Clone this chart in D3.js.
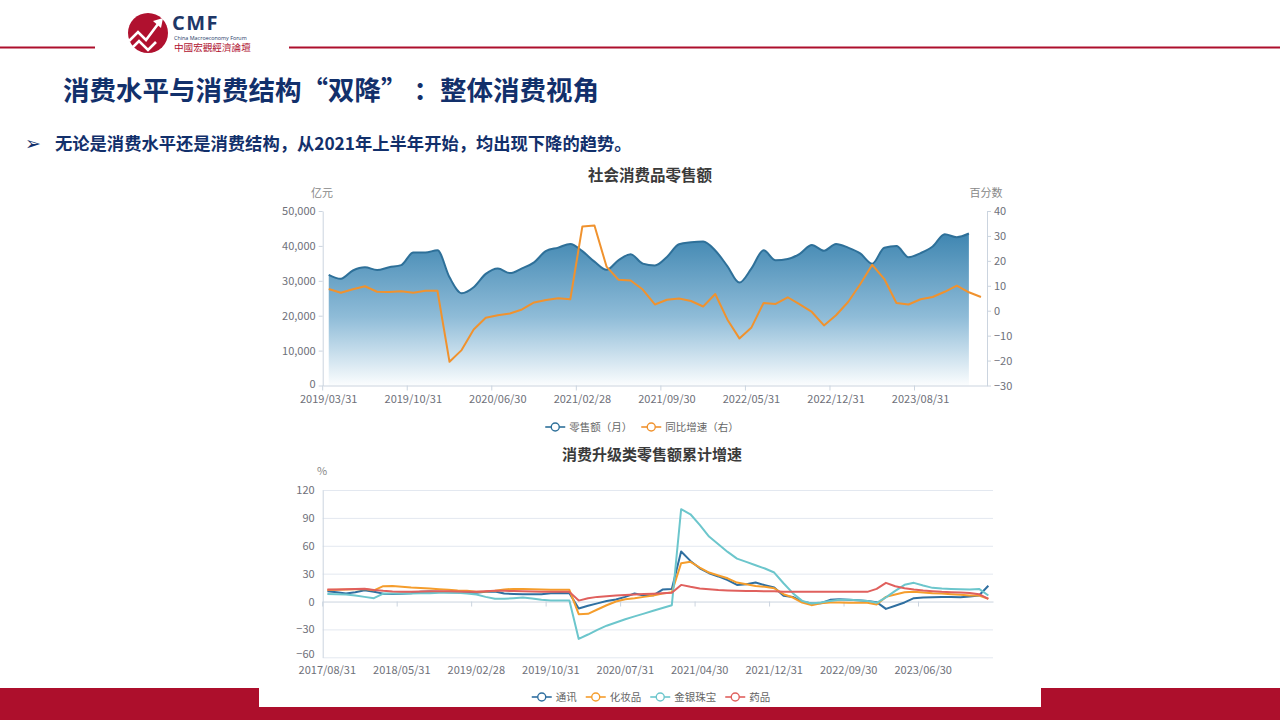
<!DOCTYPE html>
<html><head><meta charset="utf-8">
<script src="https://cdn.jsdelivr.net/npm/d3@7"></script>
<style>
html,body{margin:0;padding:0;background:#fff;}
svg{display:block;font-family:"Noto Sans CJK SC","Noto Sans",sans-serif;}
</style></head><body>
<svg id="c" width="1280" height="720"></svg>
<script>
// ---------- Chart 1 data: 社会消费品零售额 ----------
const cats1 = ["2019/03/31","2019/04/30","2019/05/31","2019/06/30","2019/07/31","2019/08/31","2019/09/30","2019/10/31","2019/11/30","2019/12/31",
"2020/02/29","2020/03/31","2020/04/30","2020/05/31","2020/06/30","2020/07/31","2020/08/31","2020/09/30","2020/10/31","2020/11/30","2020/12/31",
"2021/02/28","2021/03/31","2021/04/30","2021/05/31","2021/06/30","2021/07/31","2021/08/31","2021/09/30","2021/10/31","2021/11/30","2021/12/31",
"2022/02/28","2022/03/31","2022/04/30","2022/05/31","2022/06/30","2022/07/31","2022/08/31","2022/09/30","2022/10/31","2022/11/30","2022/12/31",
"2023/02/28","2023/03/31","2023/04/30","2023/05/31","2023/06/30","2023/07/31","2023/08/31","2023/09/30","2023/10/31","2023/11/30","2023/12/31",
"2024/02/29"];
const retail = [31726,30586,32956,33878,33073,33896,34495,38104,38094,38777,
31000,26450,28178,31973,33526,32203,33571,35295,38576,39514,40566,
38500,35484,33153,35945,37586,34925,34395,36833,40454,41043,41269,
38700,34233,29483,33547,38742,35870,36258,37745,40271,38615,40542,
39500,37855,34910,39483,39951,36761,37933,39826,43333,42505,43550,
null];
const yoy = [8.7,7.2,8.6,9.8,7.6,7.5,7.8,7.2,8.0,8.0,
-20.5,-15.8,-7.5,-2.8,-1.8,-1.1,0.5,3.3,4.3,5.0,4.6,
33.8,34.2,17.7,12.4,12.1,8.5,2.5,4.4,4.9,3.9,1.7,
6.7,-3.5,-11.1,-6.7,3.1,2.7,5.4,2.5,-0.5,-5.9,-1.8,
3.5,10.6,18.4,12.7,3.1,2.5,4.6,5.5,7.6,10.1,7.4,
5.5];
const xLabels1 = ["2019/03/31","2019/10/31","2020/06/30","2021/02/28","2021/09/30","2022/05/31","2022/12/31","2023/08/31"];
const leftTicks1 = [0,10000,20000,30000,40000,50000];
const rightTicks1 = [-30,-20,-10,0,10,20,30,40];
const legend1 = ["零售额（月）","同比增速（右）"];

// ---------- Chart 2 data: 消费升级类零售额累计增速 ----------
const cats2 = ["2017/08/31","2017/09/30","2017/10/31","2017/11/30","2017/12/31",
"2018/02/28","2018/03/31","2018/04/30","2018/05/31","2018/06/30","2018/07/31","2018/08/31","2018/09/30","2018/10/31","2018/11/30","2018/12/31",
"2019/02/28","2019/03/31","2019/04/30","2019/05/31","2019/06/30","2019/07/31","2019/08/31","2019/09/30","2019/10/31","2019/11/30","2019/12/31",
"2020/02/29","2020/03/31","2020/04/30","2020/05/31","2020/06/30","2020/07/31","2020/08/31","2020/09/30","2020/10/31","2020/11/30","2020/12/31",
"2021/02/28","2021/03/31","2021/04/30","2021/05/31","2021/06/30","2021/07/31","2021/08/31","2021/09/30","2021/10/31","2021/11/30","2021/12/31",
"2022/02/28","2022/03/31","2022/04/30","2022/05/31","2022/06/30","2022/07/31","2022/08/31","2022/09/30","2022/10/31","2022/11/30","2022/12/31",
"2023/02/28","2023/03/31","2023/04/30","2023/05/31","2023/06/30","2023/07/31","2023/08/31","2023/09/30","2023/10/31","2023/11/30","2023/12/31",
"2024/02/29"];
const tongxun = [11,10,8.6,10,12.2,10.5,8.5,8.2,8.5,9,10.5,10.7,10.5,10,9.8,9.3,9.5,10.5,10.7,8.6,8.2,7.9,7.8,7.9,9,9.3,9,
-7.5,-4.5,-2,0.5,2.2,5,8.6,6.5,6.7,12.9,13.5,
53.8,43.7,35.8,30.5,27,23,17.9,18.6,20.4,17.6,15,
6.1,5,0,-2.2,-1.8,1.8,2.5,2,1.4,0.7,-0.7,
-7.9,-4.5,-1,3.6,4.3,4.7,4.8,5,4.7,5.5,6.5,
17];
const huazhuangpin = [12.5,12.8,13,13.3,13.5,12,16.5,16.8,16,15,14.5,14,13.3,12.8,12,11.5,10.5,10.8,11.5,13,13.6,13.6,13.3,13,12.8,12.6,12.6,
-13.6,-13.2,-8.6,-4,0,2.5,3.5,5,6.5,8.5,10,
41.2,42.7,36.6,31.2,28,25,20.4,18.6,16.8,15.8,14.3,
7.9,4.3,-1.1,-3.9,-1.8,-1.1,-1.1,-1.2,-1.2,-1.4,-3.2,
5,7.5,10,10.4,9.7,9,8.6,7.9,7.2,6.5,6.5,
3];
const jinyin = [8,7.9,7.5,6.5,5,3.6,8.6,8.6,8.6,8.6,8.8,9,9.5,9.8,9.5,8.6,7.5,5,3,2.9,3.5,4.3,3.2,1.8,1.1,1,1,
-40.2,-35.5,-30.5,-26,-22.5,-19,-16,-13,-10,-7,-4,
99.3,93.9,82.4,69.9,61.6,53.4,46.2,42.7,39,35.5,31.2,
19.7,9,0.7,-2.2,-1.1,0.7,1.8,2,1.5,0.7,-1.4,
4.5,11.5,18,20.1,17.2,14.7,14,13.6,13.3,12.9,13.6,
6.5];
const yaopin = [13,13,13.2,13.5,13.8,12.5,11.5,10.8,10.6,10.5,10.8,11,11,11,10.8,10.5,10.5,11,11.5,11.5,11.2,11,10.8,10.6,10.5,10.4,10.4,
1,3.5,5,5.8,6.5,7,7.5,8,8.3,8.8,9.5,
17.9,15.8,14,13.3,12.5,12,11.6,11.4,11.2,11,11,
10.5,10.5,10.5,10.5,10.5,10.5,10.4,10.4,10.4,10.4,13.6,
20.1,16.5,14.4,12.9,11.8,11.1,10.4,10,9.7,9.3,7.9,
2.9];
const seriesNames2 = ["通讯","化妆品","金银珠宝","药品"];
const xLabels2 = ["2017/08/31","2018/05/31","2019/02/28","2019/10/31","2020/07/31","2021/04/30","2021/12/31","2022/09/30","2023/06/30"];
const yTicks2 = [-60,-30,0,30,60,90,120];

// ---------- styles ----------
const RED = "#ad0f2c";
const NAVY = "#12306b";
const AXIS = "#cbd4df";
const LABEL = "#6e7079";
const C_BLUE1 = "#2e7099", C_ORANGE1 = "#f0922e";
const colors2 = ["#2f6fa0","#f59d2c","#6cc6cc","#e0605d"];

const svg = d3.select("#c");

// ---------- slide header ----------
svg.append("line").attr("x1",0).attr("x2",95).attr("y1",47.5).attr("y2",47.5).attr("stroke",RED).attr("stroke-width",2);
svg.append("line").attr("x1",289).attr("x2",1280).attr("y1",47.5).attr("y2",47.5).attr("stroke",RED).attr("stroke-width",2);
const logo = svg.append("g");
logo.append("circle").attr("cx",148).attr("cy",33).attr("r",20).attr("fill","#b0112f");
logo.append("polyline").attr("points","129,41 138,32 146,40 158,24").attr("fill","none").attr("stroke","#fff").attr("stroke-width",2.6).attr("stroke-linejoin","miter");
logo.append("polygon").attr("points","153,21 163,18 161,28").attr("fill","#fff");
logo.append("polyline").attr("points","130,50 139,41 148,50 156,42").attr("fill","none").attr("stroke","#fff").attr("stroke-width",2.6);
logo.append("text").attr("x",172).attr("y",30).attr("font-family","'Open Sans',sans-serif").attr("font-weight",700).attr("font-size",20).attr("letter-spacing",1.5).attr("fill","#1e3767").text("CMF");
logo.append("text").attr("x",174).attr("y",40).attr("font-family","'Open Sans',sans-serif").attr("font-size",5.4).attr("fill","#1e3767").text("China Macroeconomy Forum");
logo.append("text").attr("x",174).attr("y",51).attr("font-family","'Noto Sans CJK TC'").attr("font-size",9.6).attr("fill","#b0112f").text("中國宏觀經濟論壇");

svg.append("text").attr("x",63).attr("y",99.5).attr("font-size",26.5).attr("font-weight",700).attr("fill",NAVY)
  .text("消费水平与消费结构“双降” ：整体消费视角");
svg.append("text").attr("x",25).attr("y",150).attr("font-family","'DejaVu Sans'").attr("font-size",19).attr("fill",NAVY).text("➢");
svg.append("text").attr("x",55).attr("y",150).attr("font-size",17.3).attr("font-weight",700).attr("fill",NAVY)
  .text("无论是消费水平还是消费结构，从2021年上半年开始，均出现下降的趋势。");

// ---------- bottom band ----------
svg.append("rect").attr("x",0).attr("y",688).attr("width",1280).attr("height",32).attr("fill",RED);
svg.append("rect").attr("x",259).attr("y",688).attr("width",782).attr("height",19).attr("fill","#fff");

function styleAxis(g, fs){
  g.select(".domain").attr("stroke",AXIS);
  g.selectAll(".tick line").attr("stroke",AXIS);
  g.selectAll(".tick text").attr("fill",LABEL).attr("font-size",fs).attr("font-family","'Noto Sans CJK SC',sans-serif");
}

function legend(items, cx, cy){
  const g = svg.append("g");
  const iconW = 20, gap = 4, itemGap = 9;
  let x = 0;
  const nodes = [];
  items.forEach(it=>{
    const ig = g.append("g");
    ig.append("line").attr("x1",0).attr("x2",iconW).attr("y1",0).attr("y2",0).attr("stroke",it.color).attr("stroke-width",1.6);
    ig.append("circle").attr("cx",iconW/2).attr("cy",0).attr("r",4).attr("fill","#fff").attr("stroke",it.color).attr("stroke-width",1.4);
    const t = ig.append("text").attr("x",iconW+gap).attr("y",0).attr("dy","0.35em").attr("font-size",10.5).attr("fill","#666").text(it.name);
    const w = iconW+gap+t.node().getComputedTextLength();
    nodes.push({ig,x,w});
    x += w + itemGap;
  });
  const total = x - itemGap;
  nodes.forEach(n=>n.ig.attr("transform",`translate(${cx-total/2+n.x},${cy})`));
}

// ---------- Chart 1 ----------
{
  const X0 = 322.7, X1 = 987, YT = 211, YB = 385.5;
  const x = d3.scaleBand().domain(cats1).range([X0,X1]);
  const bw = x.bandwidth();
  const cx = c => x(c) + bw/2;
  const yL = d3.scaleLinear().domain([0,50000]).range([YB,YT]);
  const yR = d3.scaleLinear().domain([-30,40]).range([YB,YT]);

  svg.append("text").attr("x",650).attr("y",180.5).attr("text-anchor","middle").attr("font-size",15.5).attr("font-weight",700).attr("fill","#3a3a3a").text("社会消费品零售额");
  svg.append("text").attr("x",322).attr("y",197).attr("text-anchor","middle").attr("font-size",11).attr("fill","#888").text("亿元");
  svg.append("text").attr("x",986).attr("y",197).attr("text-anchor","middle").attr("font-size",11).attr("fill","#888").text("百分数");

  const grad = svg.append("defs").append("linearGradient").attr("id","g1").attr("gradientUnits","userSpaceOnUse")
    .attr("x1",0).attr("x2",0).attr("y1",yL(d3.max(retail))).attr("y2",YB);
  grad.append("stop").attr("offset","0%").attr("stop-color","#3f86b1");
  grad.append("stop").attr("offset","55%").attr("stop-color","#8fbcd8");
  grad.append("stop").attr("offset","100%").attr("stop-color","#fbfdfe");

  const pts = cats1.map((c,i)=>({c,v:retail[i]})).filter(d=>d.v!=null);
  svg.append("path").datum(pts).attr("fill","url(#g1)")
    .attr("d", d3.area().x(d=>cx(d.c)).y0(YB).y1(d=>yL(d.v)).curve(d3.curveMonotoneX));
  svg.append("path").datum(pts).attr("fill","none").attr("stroke",C_BLUE1).attr("stroke-width",2)
    .attr("d", d3.line().x(d=>cx(d.c)).y(d=>yL(d.v)).curve(d3.curveMonotoneX));

  const op = cats1.map((c,i)=>({c,v:yoy[i]}));
  svg.append("path").datum(op).attr("fill","none").attr("stroke",C_ORANGE1).attr("stroke-width",2).attr("stroke-linejoin","round")
    .attr("d", d3.line().x(d=>cx(d.c)).y(d=>yR(d.v)));

  const gl = svg.append("g").attr("transform",`translate(${X0},0)`)
    .call(d3.axisLeft(yL).tickValues(leftTicks1).tickFormat(d3.format(",")).tickSize(4).tickSizeOuter(0).tickPadding(3));
  styleAxis(gl, 11);
  gl.selectAll(".tick text").filter(d=>d===0).attr("dy","0.2em");
  const gr = svg.append("g").attr("transform",`translate(${X1},0)`)
    .call(d3.axisRight(yR).tickValues(rightTicks1).tickSize(4).tickSizeOuter(0).tickPadding(3));
  styleAxis(gr, 11);
  const gb = svg.append("g").attr("transform",`translate(0,${YB})`)
    .call(d3.axisBottom(x).tickValues(xLabels1).tickSize(5).tickSizeOuter(0).tickPadding(5));
  gb.selectAll(".tick line").attr("x1",-bw/2).attr("x2",-bw/2).attr("y2",5);
  styleAxis(gb, 11);

  legend([{name:legend1[0],color:C_BLUE1},{name:legend1[1],color:C_ORANGE1}], 642, 427);
}

// ---------- Chart 2 ----------
{
  const X0 = 322.7, X1 = 993, YT = 490, YB = 657.3;
  const x = d3.scaleBand().domain(cats2).range([X0,X1]);
  const bw = x.bandwidth();
  const cx = c => x(c) + bw/2;
  const y = d3.scaleLinear().domain([-60,120]).range([YB,YT]);

  svg.append("text").attr("x",652).attr("y",460).attr("text-anchor","middle").attr("font-size",15).attr("font-weight",700).attr("fill","#3a3a3a").text("消费升级类零售额累计增速");
  svg.append("text").attr("x",322).attr("y",475).attr("text-anchor","middle").attr("font-size",11).attr("fill","#888").text("%");

  // grid
  const gg = svg.append("g").attr("transform",`translate(${X0},0)`)
    .call(d3.axisLeft(y).tickValues(yTicks2.filter(v=>v!==0)).tickSize(-(X1-X0)).tickFormat(""));
  gg.select(".domain").remove();
  gg.selectAll(".tick line").attr("stroke","#e3e8f0");

  const gy = svg.append("g").attr("transform",`translate(${X0},0)`)
    .call(d3.axisLeft(y).tickValues(yTicks2).tickSize(0).tickPadding(8));
  styleAxis(gy, 11);
  gy.selectAll(".tick text").filter(d=>d===-60).attr("dy","0.05em");

  const g0 = svg.append("g").attr("transform",`translate(0,${y(0)})`)
    .call(d3.axisBottom(x).tickValues(xLabels2).tickSize(5).tickSizeOuter(0).tickFormat(""));
  g0.selectAll(".tick line").attr("x1",-bw/2).attr("x2",-bw/2);
  styleAxis(g0, 11);

  const gxl = svg.append("g").attr("transform",`translate(0,${YB})`)
    .call(d3.axisBottom(x).tickValues(xLabels2).tickSize(0).tickPadding(9));
  gxl.select(".domain").remove();
  styleAxis(gxl, 11);

  const allSeries = [tongxun, huazhuangpin, jinyin, yaopin];
  allSeries.forEach((s,k)=>{
    const d = cats2.map((c,i)=>({c,v:s[i]}));
    svg.append("path").datum(d).attr("fill","none").attr("stroke",colors2[k]).attr("stroke-width",2).attr("stroke-linejoin","round")
      .attr("d", d3.line().x(p=>cx(p.c)).y(p=>y(p.v)));
  });

  legend(seriesNames2.map((n,k)=>({name:n,color:colors2[k]})), 651, 697);
}
</script>
</body></html>
